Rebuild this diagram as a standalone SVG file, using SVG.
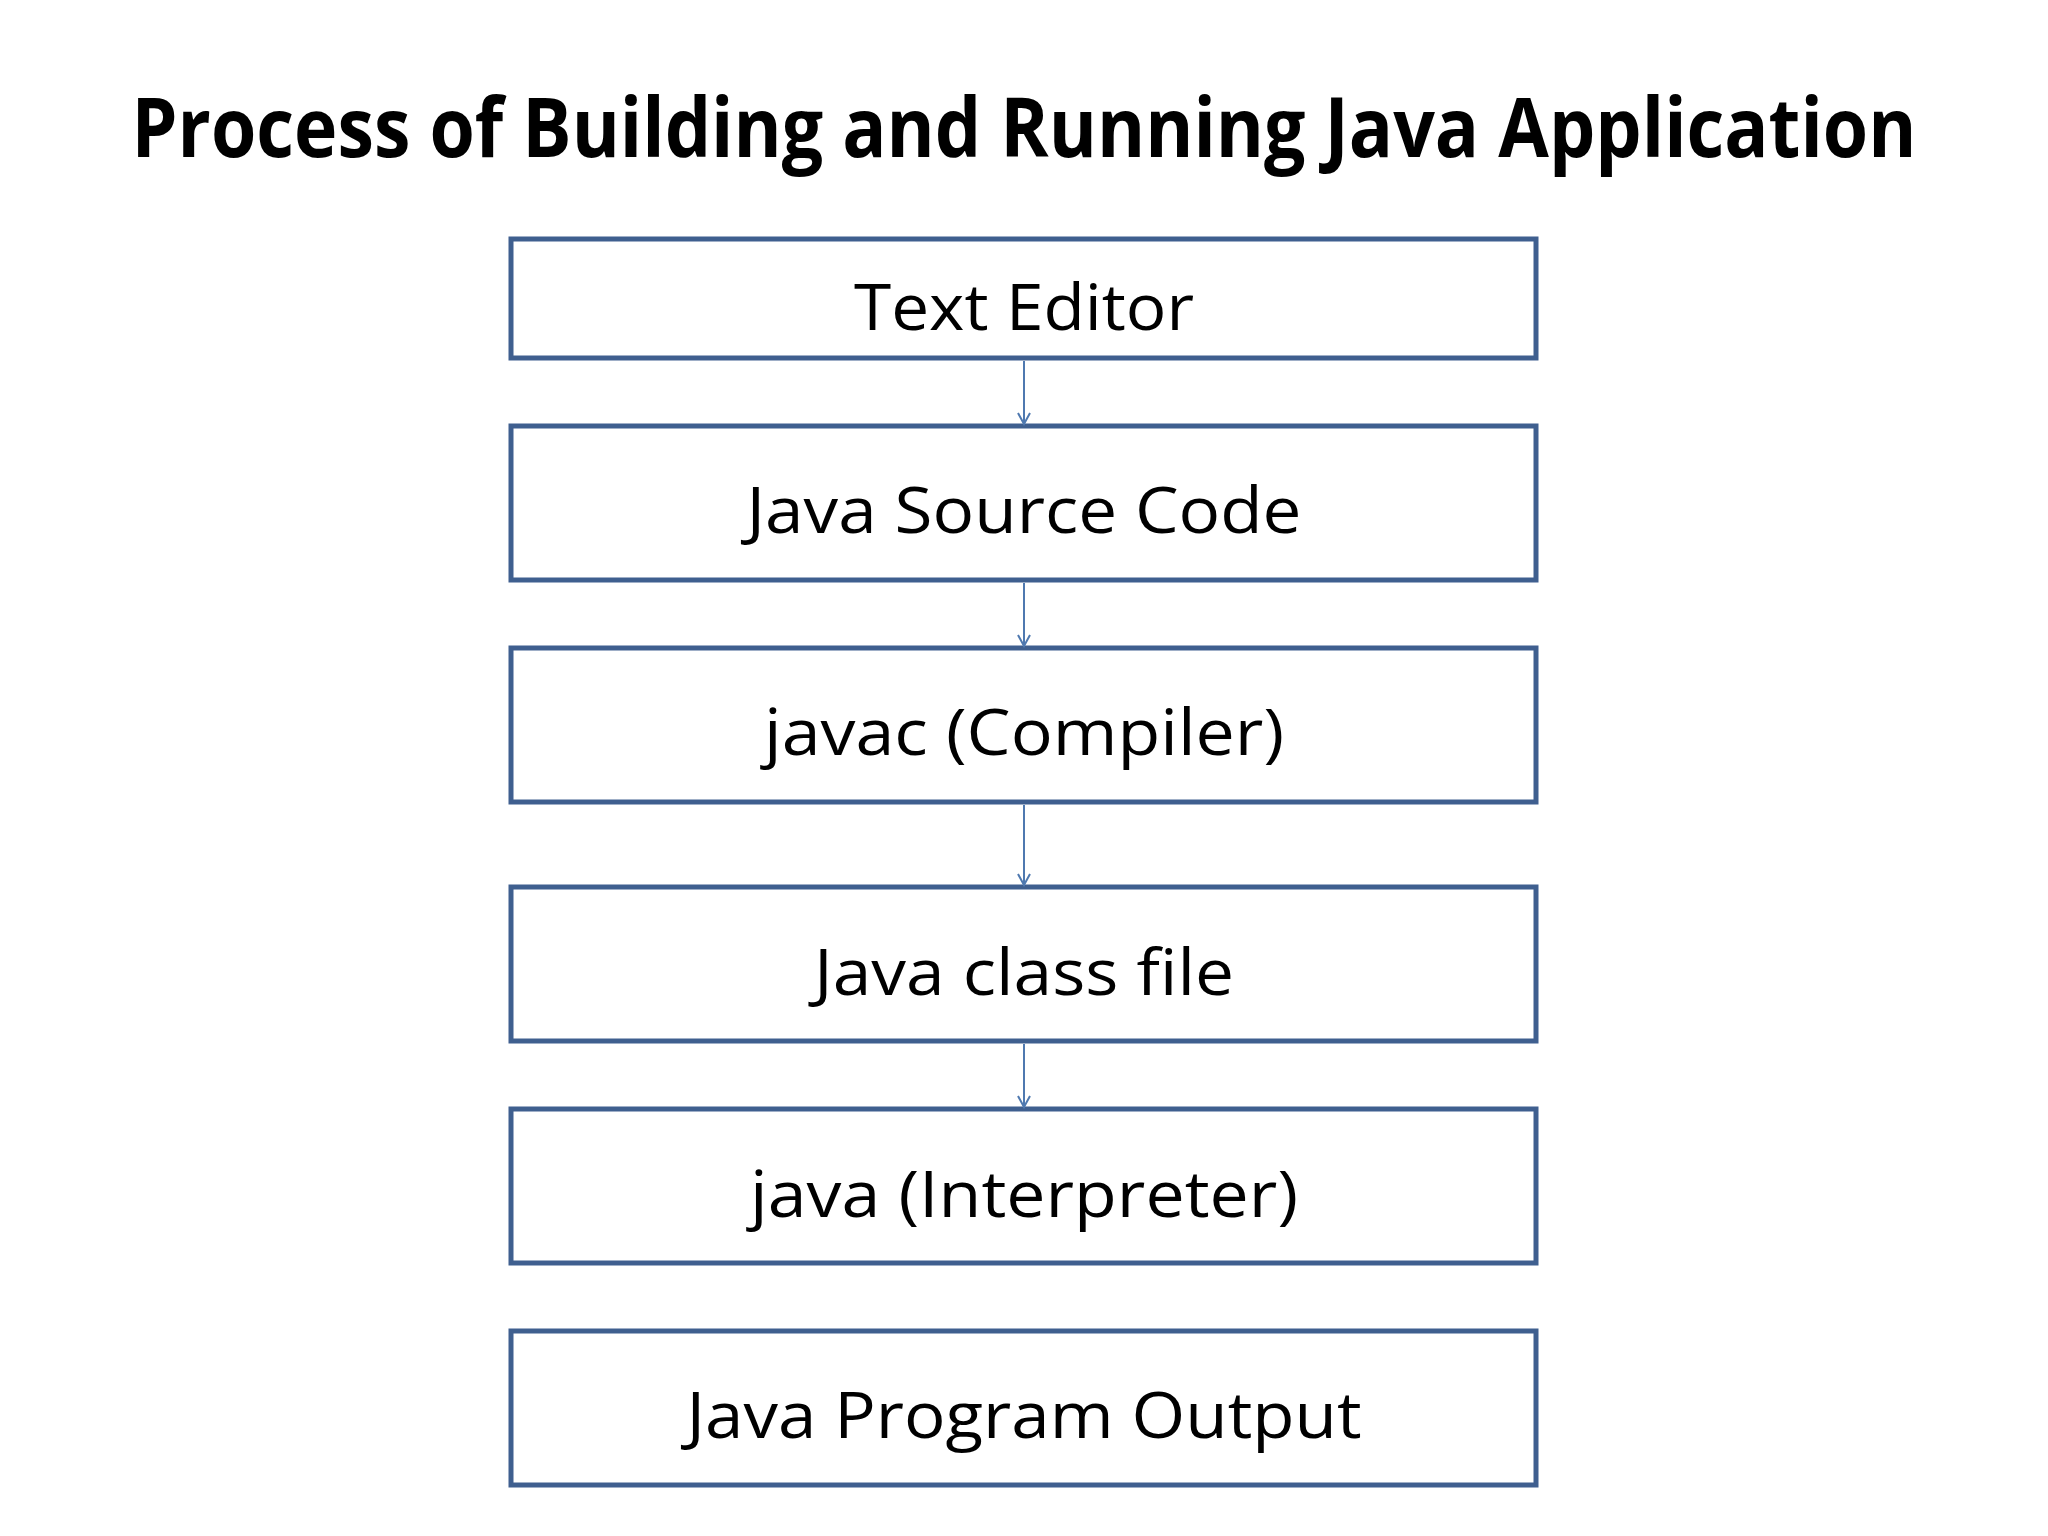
<svg xmlns="http://www.w3.org/2000/svg" width="2048" height="1536" viewBox="0 0 2048 1536">
<style>
.box{fill:#fff;stroke:#3f5f8f;stroke-width:5}
.t{font-family:"Open Sans","Noto Sans",sans-serif;font-size:64px;fill:#000;text-anchor:middle}
.c{stroke:#4f79b0;stroke-width:2;fill:none}
</style>
<defs><marker id="a" markerWidth="14" markerHeight="14" refX="12" refY="7" orient="auto" markerUnits="userSpaceOnUse"><path d="M1,1 L12,7 L1,13" fill="none" stroke="#4f79b0" stroke-width="2"/></marker></defs>
<rect width="2048" height="1536" fill="#fff"/>
<text x="1024" y="157" font-family="'Open Sans','Noto Sans',sans-serif" font-weight="bold" font-size="82" text-anchor="middle" textLength="1785" lengthAdjust="spacingAndGlyphs">Process of Building and Running Java Application</text>
<g id="n1"><rect class="box" x="511" y="239" width="1025" height="119"/><text class="t" x="1024" y="330" textLength="340" lengthAdjust="spacingAndGlyphs">Text Editor</text></g>
<g id="n2"><rect class="box" x="511" y="426" width="1025" height="154"/><text class="t" x="1024" y="533" textLength="555" lengthAdjust="spacingAndGlyphs">Java Source Code</text></g>
<g id="n3"><rect class="box" x="511" y="648" width="1025" height="154"/><text class="t" x="1024" y="755" textLength="520" lengthAdjust="spacingAndGlyphs">javac (Compiler)</text></g>
<g id="n4"><rect class="box" x="511" y="887" width="1025" height="154"/><text class="t" x="1024" y="995" textLength="420" lengthAdjust="spacingAndGlyphs">Java class file</text></g>
<g id="n5"><rect class="box" x="511" y="1109" width="1025" height="154"/><text class="t" x="1024" y="1217" textLength="548" lengthAdjust="spacingAndGlyphs">java (Interpreter)</text></g>
<g id="n6"><rect class="box" x="511" y="1331" width="1025" height="154"/><text class="t" x="1024" y="1438" textLength="675" lengthAdjust="spacingAndGlyphs">Java Program Output</text></g>
<g id="connectors">
<line class="c" x1="1024" y1="361" x2="1024" y2="424" marker-end="url(#a)"/>
<line class="c" x1="1024" y1="583" x2="1024" y2="646" marker-end="url(#a)"/>
<line class="c" x1="1024" y1="805" x2="1024" y2="885" marker-end="url(#a)"/>
<line class="c" x1="1024" y1="1044" x2="1024" y2="1107" marker-end="url(#a)"/>
</g>
</svg>
